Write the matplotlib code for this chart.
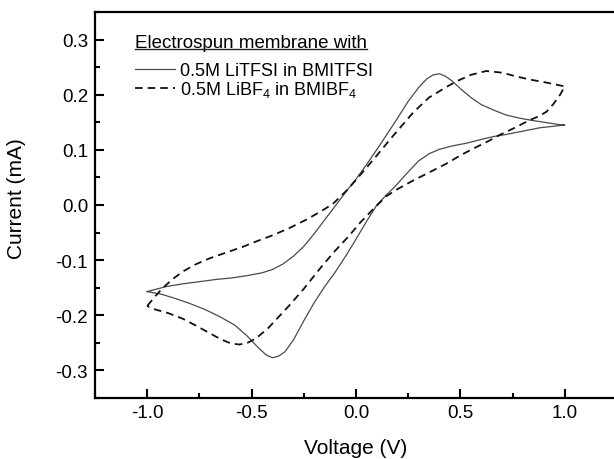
import numpy as np
import matplotlib
matplotlib.use("Agg")
import matplotlib.pyplot as plt
from matplotlib.ticker import AutoMinorLocator, FormatStrFormatter
from matplotlib.lines import Line2D

plt.rcParams['font.family'] = ['Liberation Sans', 'DejaVu Sans']
plt.rcParams['mathtext.fontset'] = 'custom'
plt.rcParams['mathtext.rm'] = 'Liberation Sans'
plt.rcParams['mathtext.it'] = 'Liberation Sans:italic'
plt.rcParams['mathtext.bf'] = 'Liberation Sans:bold'
plt.rcParams['axes.unicode_minus'] = False

# ---- data ----
# 0.5M LiTFSI in BMITFSI : anodic (upper) sweep
tfsi_fwd_v = [-1.0, -0.95, -0.91, -0.83, -0.75, -0.67, -0.59, -0.52, -0.45, -0.40,
              -0.35, -0.30, -0.25, -0.20, -0.16, -0.12, -0.08, -0.04, 0.0, 0.05,
              0.113, 0.193, 0.25, 0.30, 0.34, 0.37, 0.40, 0.43, 0.46, 0.50,
              0.55, 0.60, 0.66, 0.72, 0.79, 0.85, 0.92, 0.97, 1.0]
tfsi_fwd_i = [-0.157, -0.152, -0.148, -0.143, -0.139, -0.135, -0.132, -0.128, -0.123, -0.117,
              -0.107, -0.093, -0.075, -0.052, -0.032, -0.012, 0.008, 0.028, 0.047, 0.073,
              0.108, 0.154, 0.188, 0.213, 0.229, 0.236, 0.238, 0.233, 0.225, 0.211,
              0.195, 0.182, 0.172, 0.163, 0.157, 0.153, 0.149, 0.146, 0.145]
# cathodic (lower) sweep
tfsi_rev_v = [1.0, 0.95, 0.88, 0.80, 0.72, 0.656, 0.59, 0.528, 0.46, 0.40,
              0.35, 0.30, 0.25, 0.193, 0.145, 0.10, 0.05, 0.0, -0.05, -0.10,
              -0.15, -0.20, -0.25, -0.30, -0.34, -0.37, -0.40, -0.43, -0.47, -0.52,
              -0.58, -0.65, -0.72, -0.80, -0.87, -0.93, -1.0]
tfsi_rev_i = [0.145, 0.143, 0.140, 0.134, 0.128, 0.124, 0.118, 0.112, 0.107, 0.101,
              0.093, 0.080, 0.060, 0.036, 0.018, 0.000, -0.030, -0.062, -0.093, -0.122,
              -0.148, -0.177, -0.210, -0.245, -0.266, -0.274, -0.277, -0.272, -0.258, -0.238,
              -0.218, -0.203, -0.190, -0.178, -0.169, -0.162, -0.157]

# 0.5M LiBF4 in BMIBF4 : anodic (upper) sweep
bf4_fwd_v = [-1.0, -0.96, -0.927, -0.88, -0.831, -0.77, -0.703, -0.62, -0.543, -0.47,
             -0.40, -0.32, -0.24, -0.17, -0.111, -0.04, 0.033, 0.10, 0.17, 0.272,
             0.35, 0.433, 0.48, 0.55, 0.624, 0.70, 0.768, 0.84, 0.912, 1.0]
bf4_fwd_i = [-0.183, -0.165, -0.151, -0.135, -0.121, -0.108, -0.097, -0.086, -0.076, -0.065,
             -0.055, -0.042, -0.027, -0.012, 0.002, 0.028, 0.060, 0.090, 0.122, 0.167,
             0.195, 0.214, 0.224, 0.236, 0.243, 0.240, 0.233, 0.227, 0.222, 0.215]
# cathodic (lower) sweep
bf4_rev_v = [1.0, 0.976, 0.945, 0.912, 0.87, 0.832, 0.76, 0.688, 0.62, 0.56,
             0.50, 0.433, 0.35, 0.272, 0.20, 0.145, 0.081, 0.02, -0.031, -0.10,
             -0.159, -0.191, -0.25, -0.319, -0.351, -0.42, -0.479, -0.52, -0.559, -0.60,
             -0.65, -0.703, -0.77, -0.831, -0.90, -0.975, -1.0]
bf4_rev_i = [0.215, 0.199, 0.183, 0.169, 0.160, 0.154, 0.140, 0.127, 0.113, 0.102,
             0.090, 0.075, 0.059, 0.044, 0.029, 0.016, -0.008, -0.032, -0.055, -0.083,
             -0.109, -0.124, -0.152, -0.182, -0.195, -0.223, -0.242, -0.250, -0.253, -0.251,
             -0.243, -0.232, -0.218, -0.206, -0.196, -0.188, -0.183]

labels = ["0.5M LiTFSI in BMITFSI", r"0.5M LiBF$_4$ in BMIBF$_4$"]
legend_title = "Electrospun membrane with"
x_ticks = [-1.0, -0.5, 0.0, 0.5, 1.0]
y_ticks = [-0.3, -0.2, -0.1, 0.0, 0.1, 0.2, 0.3]

# ---- figure ----
W, H = 614, 460
fig = plt.figure(figsize=(W / 100, H / 100), dpi=100)
ax = fig.add_axes([95 / W, 61 / H, 522 / W, 386 / H])

ax.plot(np.concatenate([tfsi_fwd_v, tfsi_rev_v]), np.concatenate([tfsi_fwd_i, tfsi_rev_i]),
        color='#4a4a4a', lw=0.9, ls='-', label=labels[0])
ax.plot(np.concatenate([bf4_fwd_v, bf4_rev_v]), np.concatenate([bf4_fwd_i, bf4_rev_i]),
        color='#111111', lw=1.3, ls=(0, (4.2, 2.8)), label=labels[1])

ax.set_xlim(-1.25, 1.25)
ax.set_ylim(-0.35, 0.35)
ax.set_xticks(x_ticks)
ax.set_yticks(y_ticks)
ax.xaxis.set_major_formatter(FormatStrFormatter('%.1f'))
ax.yaxis.set_major_formatter(FormatStrFormatter('%.1f'))
ax.xaxis.set_minor_locator(AutoMinorLocator(2))
ax.yaxis.set_minor_locator(AutoMinorLocator(2))

for s in ax.spines.values():
    s.set_linewidth(1.6)
ax.tick_params(which='both', direction='in', top=False, right=False, width=1.5, colors='black')
ax.tick_params(which='major', length=6.5, labelsize=13.5)
ax.tick_params(axis='y', which='major', pad=5)
ax.tick_params(axis='x', which='major', pad=4.5)
ax.tick_params(which='minor', length=3.5)

ax.set_xlabel("Voltage (V)", fontsize=15)
ax.set_ylabel("Current (mA)", fontsize=15)
ax.xaxis.set_label_coords(0.5, -0.104)
ax.yaxis.set_label_coords(-0.133, 0.52)

# legend title (underlined) + legend
tx = (135 - 95) / 522
ty = (399 - 48) / 386
title = ax.text(tx, ty, legend_title, transform=ax.transAxes, fontsize=13.5,
                ha='left', va='baseline')
leg = ax.legend(loc='upper left', bbox_to_anchor=(tx, (399 - 63) / 386), frameon=False,
                fontsize=13, handlelength=2.2, handletextpad=0.3, labelspacing=0.0,
                borderpad=0, borderaxespad=0)

fig.canvas.draw()
renderer = fig.canvas.get_renderer()
bb = title.get_window_extent(renderer)
bx, by = ax.transAxes.transform((tx, ty))
fig.lines.append(Line2D([bb.x0, bb.x1], [by - 1.8, by - 1.8], transform=None,
                        color='#222222', lw=1.0))

fig.savefig("out.png", dpi=100)
